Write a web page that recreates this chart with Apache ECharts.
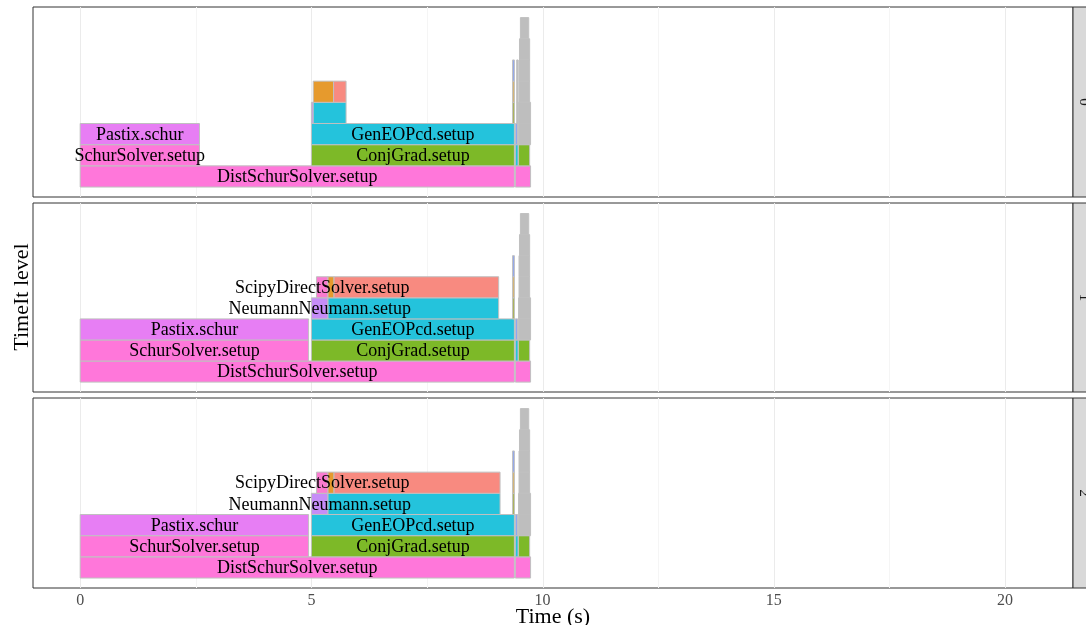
<!DOCTYPE html>
<html>
<head>
<meta charset="utf-8">
<script src="https://cdn.jsdelivr.net/npm/echarts@6/dist/echarts.min.js"></script>
<style>html,body{margin:0;padding:0;background:#fff}#c{width:1086px;height:625px}</style>
</head>
<body>
<div id="c"></div>
<script>
// ---- data ----
const panelNames = ['0', '1', '2'];
const xTicks = [0, 5, 10, 15, 20];
const xMinorTicks = [2.5, 7.5, 12.5, 17.5];
const xTitle = 'Time (s)';
const yTitle = 'TimeIt level';
// frames: [start (s), end (s), level, function, labelled]
const frames0 = [
  [0.00, 9.39, 0, 'DistSchurSolver.setup', 1],
  [9.41, 9.74, 0, 'pink', 0],
  [0.00, 2.58, 1, 'SchurSolver.setup', 1],
  [5.00, 9.39, 1, 'ConjGrad.setup', 1],
  [9.41, 9.47, 1, 'teal', 0],
  [9.48, 9.72, 1, 'green', 0],
  [0.00, 2.58, 2, 'Pastix.schur', 1],
  [5.00, 9.39, 2, 'GenEOPcd.setup', 1],
  [9.41, 9.46, 2, 'periwinkle', 0],
  [9.48, 9.74, 2, 'grey', 0],
  [5.00, 5.04, 3, 'NeumannNeumann.setup', 0],
  [5.04, 5.75, 3, 'teal', 0],
  [9.35, 9.39, 3, 'olive', 0],
  [9.44, 9.47, 3, 'grey', 0],
  [9.48, 9.74, 3, 'grey', 0],
  [5.04, 5.48, 4, 'orange', 0],
  [5.48, 5.75, 4, 'salmon', 0],
  [9.35, 9.39, 4, 'tan', 0],
  [9.44, 9.47, 4, 'grey', 0],
  [9.49, 9.72, 4, 'grey', 0],
  [9.35, 9.39, 5, 'periwinkle', 0],
  [9.44, 9.47, 5, 'grey', 0],
  [9.49, 9.72, 5, 'grey', 0],
  [9.50, 9.72, 6, 'grey', 0],
  [9.52, 9.70, 7, 'grey', 0]
];
const frames1 = [
  [0.00, 9.39, 0, 'DistSchurSolver.setup', 1],
  [9.41, 9.74, 0, 'pink', 0],
  [0.00, 4.94, 1, 'SchurSolver.setup', 1],
  [5.00, 9.39, 1, 'ConjGrad.setup', 1],
  [9.41, 9.47, 1, 'teal', 0],
  [9.48, 9.72, 1, 'green', 0],
  [0.00, 4.94, 2, 'Pastix.schur', 1],
  [5.00, 9.39, 2, 'GenEOPcd.setup', 1],
  [9.41, 9.46, 2, 'periwinkle', 0],
  [9.48, 9.74, 2, 'grey', 0],
  [5.00, 5.36, 3, 'NeumannNeumann.setup', 1],
  [5.36, 9.05, 3, 'teal', 0],
  [9.35, 9.39, 3, 'olive', 0],
  [9.48, 9.74, 3, 'grey', 0],
  [5.11, 5.36, 4, 'ScipyDirectSolver.setup', 1],
  [5.36, 5.49, 4, 'orange', 0],
  [5.49, 9.05, 4, 'salmon', 0],
  [9.35, 9.39, 4, 'tan', 0],
  [9.49, 9.72, 4, 'grey', 0],
  [9.35, 9.39, 5, 'periwinkle', 0],
  [9.49, 9.72, 5, 'grey', 0],
  [9.50, 9.72, 6, 'grey', 0],
  [9.52, 9.70, 7, 'grey', 0]
];
const frames2 = [
  [0.00, 9.39, 0, 'DistSchurSolver.setup', 1],
  [9.41, 9.74, 0, 'pink', 0],
  [0.00, 4.94, 1, 'SchurSolver.setup', 1],
  [5.00, 9.39, 1, 'ConjGrad.setup', 1],
  [9.41, 9.47, 1, 'teal', 0],
  [9.48, 9.72, 1, 'green', 0],
  [0.00, 4.94, 2, 'Pastix.schur', 1],
  [5.00, 9.39, 2, 'GenEOPcd.setup', 1],
  [9.41, 9.46, 2, 'periwinkle', 0],
  [9.48, 9.74, 2, 'grey', 0],
  [5.00, 5.36, 3, 'NeumannNeumann.setup', 1],
  [5.36, 9.08, 3, 'teal', 0],
  [9.35, 9.39, 3, 'olive', 0],
  [9.48, 9.74, 3, 'grey', 0],
  [5.11, 5.36, 4, 'ScipyDirectSolver.setup', 1],
  [5.36, 5.49, 4, 'orange', 0],
  [5.49, 9.08, 4, 'salmon', 0],
  [9.35, 9.39, 4, 'tan', 0],
  [9.49, 9.72, 4, 'grey', 0],
  [9.35, 9.39, 5, 'periwinkle', 0],
  [9.49, 9.72, 5, 'grey', 0],
  [9.50, 9.72, 6, 'grey', 0],
  [9.52, 9.70, 7, 'grey', 0]
];
const allFrames = [frames0, frames1, frames2];

// ---- styles ----
const funcColors = {
  'DistSchurSolver.setup': '#FF77DA',
  'SchurSolver.setup': '#FF77DA',
  'Pastix.schur': '#E77EF4',
  'ConjGrad.setup': '#7DB928',
  'GenEOPcd.setup': '#24C3DC',
  'NeumannNeumann.setup': '#C68DF7',
  'ScipyDirectSolver.setup': '#F97BD0',
  'pink': '#FF77DA',
  'teal': '#24C3DC',
  'green': '#7DB928',
  'periwinkle': '#8EA6F2',
  'olive': '#A9B24A',
  'tan': '#D7B36A',
  'orange': '#E69A2D',
  'salmon': '#F88A80',
  'grey': '#BEBEBE'
};
const SERIF = '"Liberation Serif", "DejaVu Serif", serif';
const X_MIN = -1.02, X_MAX = 21.47, Y_MIN = -0.47, Y_MAX = 8.5;
const gridTops = [7, 203, 398];
const gridHeights = [190, 189, 190];
const LEFT = 33, RIGHT_EDGE = 1073;

const chart = echarts.init(document.getElementById('c'), null, {renderer: 'canvas'});

const grids = [], xAxes = [], yAxes = [], series = [], graphics = [];
allFrames.forEach((frames, i) => {
  const last = i === allFrames.length - 1;
  grids.push({left: LEFT, right: 1086 - RIGHT_EDGE, top: gridTops[i], height: gridHeights[i],
    show: true, borderColor: '#333333', borderWidth: 1, backgroundColor: '#fff',
    containLabel: false, outerBoundsMode: 'none'});
  xAxes.push({
    type: 'value', gridIndex: i, min: X_MIN, max: X_MAX,
    splitLine: {show: false}, axisLine: {show: false},
    axisTick: {show: false},
    axisLabel: {show: last, customValues: xTicks, margin: 5, hideOverlap: false,
      color: '#4D4D4D', fontFamily: SERIF, fontSize: 16}
  });
  yAxes.push({type: 'value', gridIndex: i, min: Y_MIN, max: Y_MAX, show: false, splitLine: {show: false}});

  // gridlines
  const gl = xTicks.map(v => [v, 1]).concat(xMinorTicks.map(v => [v, 0]));
  series.push({
    type: 'custom', xAxisIndex: i, yAxisIndex: i, z: 1, silent: true,
    data: gl,
    renderItem: (params, api) => {
      const v = api.value(0), major = api.value(1);
      const cs = params.coordSys;
      const x = Math.round(api.coord([v, 0])[0]) + 0.5;
      return {type: 'line', shape: {x1: x, y1: cs.y, x2: x, y2: cs.y + cs.height},
        style: {stroke: major ? '#EBEBEB' : '#F5F5F5', lineWidth: 1}};
    }
  });
  // rectangles
  series.push({
    type: 'custom', xAxisIndex: i, yAxisIndex: i, z: 2, silent: true,
    data: frames.map(f => [f[0], f[1], f[2], f[2] + 1]),
    encode: {x: [0, 1], y: [2, 3]},
    renderItem: (params, api) => {
      const f = frames[params.dataIndex];
      const p0 = api.coord([f[0], f[2] + 1]);
      const p1 = api.coord([f[1], f[2]]);
      return {type: 'rect',
        shape: {x: p0[0], y: p0[1], width: p1[0] - p0[0], height: p1[1] - p0[1]},
        style: {fill: funcColors[f[3]], stroke: '#C0C0C0', lineWidth: 1}};
    }
  });
  // labels
  const lab = frames.filter(f => f[4]);
  series.push({
    type: 'custom', xAxisIndex: i, yAxisIndex: i, z: 3, silent: true,
    data: lab.map(f => [(f[0] + f[1]) / 2, f[2] + 0.5]),
    renderItem: (params, api) => {
      const f = lab[params.dataIndex];
      const p = api.coord([(f[0] + f[1]) / 2, f[2] + 0.5]);
      return {type: 'text', x: p[0], y: p[1] + 1,
        style: {text: f[3], fill: '#000', font: '18px ' + SERIF, align: 'center', verticalAlign: 'middle'}};
    }
  });

  // facet strip
  graphics.push({type: 'rect', shape: {x: RIGHT_EDGE, y: gridTops[i], width: 22, height: gridHeights[i]},
    style: {fill: '#D9D9D9', stroke: '#333333', lineWidth: 1}, z: 10});
  graphics.push({type: 'text', x: 1084, y: gridTops[i] + gridHeights[i] / 2, rotation: -Math.PI / 2,
    style: {text: panelNames[i], fill: '#1A1A1A', font: '15px ' + SERIF, align: 'center', verticalAlign: 'middle'}, z: 11});
});

graphics.push({type: 'text', x: 22, y: 297, rotation: Math.PI / 2,
  style: {text: yTitle, fill: '#000', font: '22px ' + SERIF, align: 'center', verticalAlign: 'middle'}});
graphics.push({type: 'text', x: 553, y: 617,
  style: {text: xTitle, fill: '#000', font: '22px ' + SERIF, align: 'center', verticalAlign: 'middle'}});

chart.setOption({
  animation: false,
  backgroundColor: '#fff',
  grid: grids, xAxis: xAxes, yAxis: yAxes, series: series, graphic: graphics
});
</script>
</body>
</html>
